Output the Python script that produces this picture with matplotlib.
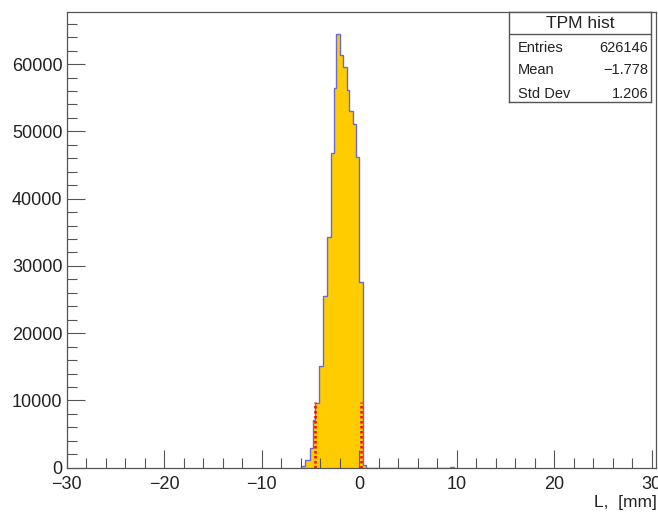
import matplotlib
matplotlib.use("Agg")
import matplotlib.pyplot as plt
from matplotlib.ticker import MultipleLocator
import numpy as np

plt.rcParams["font.family"] = ["Liberation Sans", "DejaVu Sans"]

# histogram (bin edges in mm, entries per bin)
bin_edges = [-5.95, -5.58, -5.0, -4.69, -4.52, -4.08, -3.71, -3.30, -2.92, -2.60,
             -2.38, -2.0, -1.71, -1.25, -1.0, -0.65, -0.29, -0.02, 0.36, 0.72,
             9.35, 9.70]
counts = [200, 1100, 3000, 7100, 9600, 15100, 25500, 34300, 46800, 56400,
          64400, 61300, 59500, 56100, 53000, 51100, 46200, 27600, 400, 0,
          150]

# dotted red cut markers
cut_x = [-4.5, 0.2]
cut_top = 9700

stats_title = "TPM hist"
stats_names = ["Entries", "Mean", "Std Dev"]
stats_values = ["626146", "\u22121.778", "1.206"]

W, H = 658, 512
fig = plt.figure(figsize=(W / 100, H / 100), dpi=100)

# frame in pixel coordinates of the reference
x0, x1, y_top, y_bot = 66.7, 656.0, 12.3, 467.7
ax = fig.add_axes([x0 / W, 1 - y_bot / H, (x1 - x0) / W, (y_bot - y_top) / H])

ax.stairs(counts, bin_edges, fill=True, facecolor="#ffcc00", edgecolor="none")
ax.stairs(counts, bin_edges, color="#6a6ad0", lw=1.0)
ax.vlines(cut_x, 0, cut_top, colors="red", linestyles=(0, (1, 1)), lw=1.8)

ax.set_xlim(-30, 30.44)
ax.set_ylim(0, 67700)

ax.xaxis.set_major_locator(MultipleLocator(10))
ax.xaxis.set_minor_locator(MultipleLocator(2))
ax.yaxis.set_major_locator(MultipleLocator(10000))
ax.yaxis.set_minor_locator(MultipleLocator(2000))

frame_col = "#555555"
for s in ax.spines.values():
    s.set_color(frame_col)
    s.set_linewidth(0.9)
ax.tick_params(which="both", direction="in", color=frame_col, width=0.8,
               top=False, right=False, labelsize=13, labelcolor="#222222")
ax.tick_params(which="major", length=13)
ax.tick_params(which="minor", length=7)
ax.tick_params(axis="x", pad=6)
ax.tick_params(axis="y", pad=3)

fig.text(657 / W, 1 - 503 / H, "L,  [mm]", ha="right", va="center",
         fontsize=12.5, color="#222222")

# stats box
bx0, bx1, by0, by1 = 509, 651, 12.3, 102
sax = fig.add_axes([bx0 / W, 1 - by1 / H, (bx1 - bx0) / W, (by1 - by0) / H])
sax.set_xticks([])
sax.set_yticks([])
for s in sax.spines.values():
    s.set_color(frame_col)
    s.set_linewidth(1.0)
sep = 1 - (34 - by0) / (by1 - by0)
sax.axhline(sep, color=frame_col, lw=1.0)
sax.text(0.5, 1 - (23 - by0) / (by1 - by0), stats_title, ha="center", va="center",
         fontsize=12.5, color="#222222", transform=sax.transAxes)
for i, (name, val) in enumerate(zip(stats_names, stats_values)):
    yy = 1 - (47.5 + 23 * i - by0) / (by1 - by0)
    sax.text(0.06, yy, name, ha="left", va="center", fontsize=10.5,
             color="#222222", transform=sax.transAxes)
    sax.text(0.98, yy, val, ha="right", va="center", fontsize=10.5,
             color="#222222", transform=sax.transAxes)

fig.savefig("out.png", dpi=100)
